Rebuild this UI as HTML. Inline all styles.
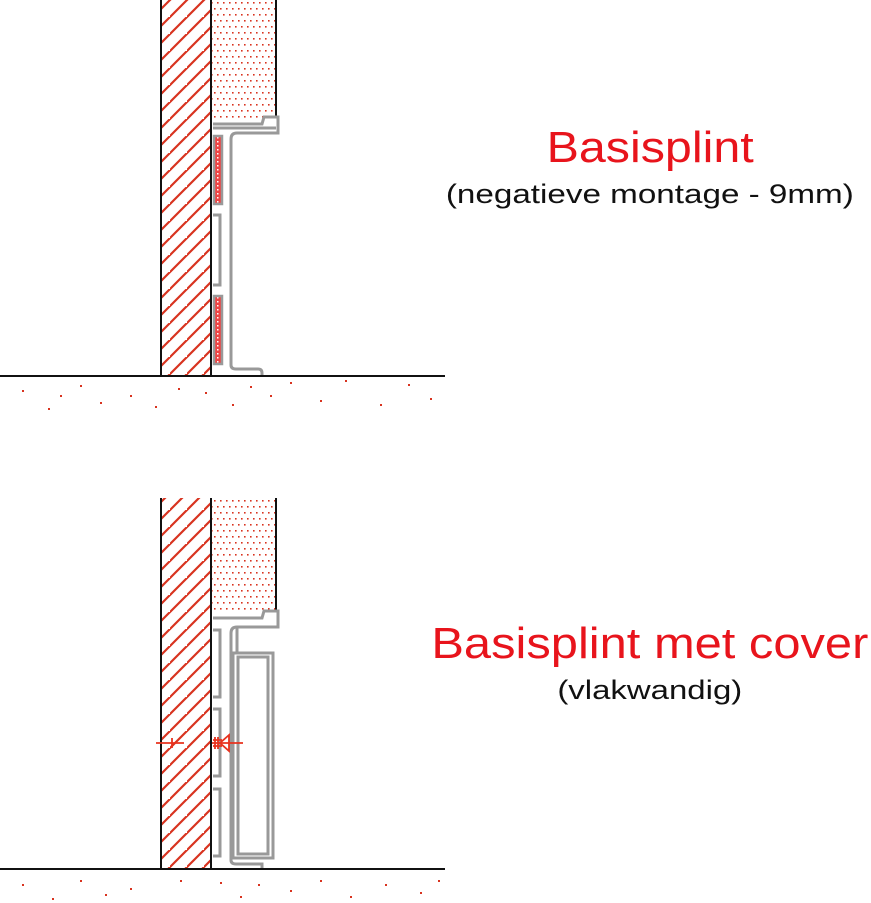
<!DOCTYPE html>
<html><head><style>
html,body{margin:0;padding:0;background:#fff;}
.t{position:absolute;width:500px;left:400px;text-align:center;font-family:"Liberation Sans",sans-serif;white-space:nowrap;}
.t span{display:inline-block;}
</style></head><body>
<div style="position:relative;width:871px;height:903px;overflow:hidden;">
<svg width="871" height="903" style="position:absolute;left:0;top:0">
<defs>
<pattern id="h" width="17" height="17" patternUnits="userSpaceOnUse">
<path d="M-2,19 L19,-2 M-19,19 L2,-2" stroke="#d8331f" stroke-width="2.2"/>
</pattern>
<pattern id="d" width="6" height="12" patternUnits="userSpaceOnUse">
<rect x="1" y="2" width="1.6" height="1.6" fill="#d8331f"/>
<rect x="4" y="8" width="1.6" height="1.6" fill="#d8331f"/>
</pattern>
<pattern id="r" width="4" height="4" patternUnits="userSpaceOnUse">
<rect width="4" height="4" fill="#e44"/><rect x="1" y="1" width="1.5" height="1.5" fill="#fff"/>
</pattern>
</defs>
<!-- TOP -->
<rect x="161" y="0" width="50" height="376" fill="url(#h)"/>
<rect x="212" y="0" width="64" height="122" fill="url(#d)"/>
<line x1="161" y1="0" x2="161" y2="376" stroke="#111" stroke-width="2"/>
<line x1="211" y1="0" x2="211" y2="376" stroke="#111" stroke-width="2"/>
<line x1="276" y1="0" x2="276" y2="117" stroke="#111" stroke-width="2"/>
<g fill="none" stroke="#999" stroke-width="3">
<path d="M213,124 L262,124 L264,117 L278,117 L278,133 L237,133 Q231,133 231,139 L231,365 Q231,369 236,369 L258,369 Q262,369 262,373 L262,376"/>
<path d="M213,128 L276,128"/>
<path d="M213,215 L220,215 L220,285 L213,285"/>
</g>
<rect x="214" y="136" width="8" height="68" fill="url(#r)" stroke="#999" stroke-width="2.5"/>
<rect x="214" y="296" width="8" height="68" fill="url(#r)" stroke="#999" stroke-width="2.5"/>
<line x1="0" y1="376" x2="445" y2="376" stroke="#111" stroke-width="2"/>
<!-- BOTTOM -->
<rect x="161" y="498" width="50" height="371" fill="url(#h)"/>
<rect x="212" y="498" width="64" height="116" fill="url(#d)"/>
<line x1="161" y1="498" x2="161" y2="869" stroke="#111" stroke-width="2"/>
<line x1="211" y1="498" x2="211" y2="869" stroke="#111" stroke-width="2"/>
<line x1="276" y1="498" x2="276" y2="612" stroke="#111" stroke-width="2"/>
<g fill="none" stroke="#999" stroke-width="3">
<path d="M213,618 L262,618 L264,611 L278,611 L278,627 L237,627 Q231,627 231,633 L231,860 Q231,864 236,864 L262,864 L262,869"/>
<path d="M237,627 L237,653 L233,653 L233,858 L273,858 L273,653 L237,653"/>
<path d="M238,657 L268,657 L268,854 L238,854 Z"/>
<path d="M213,630 L220,630 L220,697 L213,697 M213,709 L220,709 L220,776 L213,776 M213,789 L220,789 L220,856 L213,856"/>
</g>
<g stroke="#e8321e" stroke-width="1.8" fill="none">
<line x1="156" y1="743" x2="184" y2="743"/>
<line x1="212" y1="743" x2="243" y2="743"/>
<line x1="172" y1="738" x2="172" y2="748"/>
<path d="M229,735 L220,743 L229,751 Z"/>
<path d="M215,737 L215,749 M218,737 L218,749 M213,740 L222,740 M213,746 L222,746"/>
</g>
<line x1="0" y1="869" x2="445" y2="869" stroke="#111" stroke-width="2"/>
<g fill="#d8331f">
<rect x="22" y="390" width="2" height="2"/><rect x="48" y="408" width="2" height="2"/><rect x="80" y="385" width="2" height="2"/><rect x="100" y="402" width="2" height="2"/><rect x="130" y="395" width="2" height="2"/><rect x="178" y="388" width="2" height="2"/><rect x="205" y="392" width="2" height="2"/><rect x="232" y="404" width="2" height="2"/><rect x="250" y="386" width="2" height="2"/><rect x="290" y="382" width="2" height="2"/><rect x="320" y="400" width="2" height="2"/><rect x="345" y="380" width="2" height="2"/><rect x="380" y="404" width="2" height="2"/><rect x="408" y="384" width="2" height="2"/><rect x="430" y="398" width="2" height="2"/><rect x="60" y="395" width="2" height="2"/><rect x="155" y="406" width="2" height="2"/><rect x="270" y="395" width="2" height="2"/>
<rect x="22" y="884" width="2" height="2"/><rect x="52" y="898" width="2" height="2"/><rect x="80" y="880" width="2" height="2"/><rect x="105" y="894" width="2" height="2"/><rect x="130" y="888" width="2" height="2"/><rect x="180" y="880" width="2" height="2"/><rect x="220" y="882" width="2" height="2"/><rect x="240" y="896" width="2" height="2"/><rect x="258" y="884" width="2" height="2"/><rect x="290" y="890" width="2" height="2"/><rect x="320" y="880" width="2" height="2"/><rect x="350" y="896" width="2" height="2"/><rect x="385" y="884" width="2" height="2"/><rect x="420" y="892" width="2" height="2"/><rect x="438" y="880" width="2" height="2"/>
</g>
</svg>
<div class="t" style="top:123px;font-size:44px;color:#e8141c;"><span style="transform:scaleX(1.1)">Basisplint</span></div>
<div class="t" style="top:179px;font-size:27px;color:#111;"><span style="transform:scaleX(1.23)">(negatieve montage - 9mm)</span></div>
<div class="t" style="top:619px;font-size:44px;color:#e8141c;"><span style="transform:scaleX(1.11)">Basisplint met cover</span></div>
<div class="t" style="top:675px;font-size:27px;color:#111;"><span style="transform:scaleX(1.22)">(vlakwandig)</span></div>
</div>
</body></html>
